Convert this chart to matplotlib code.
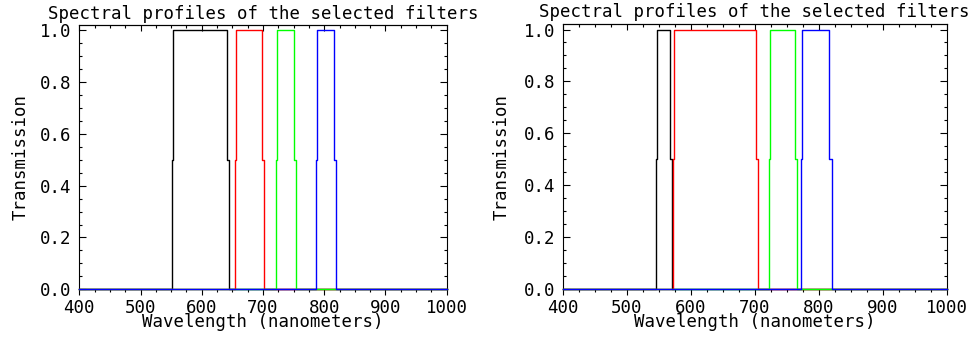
import matplotlib.pyplot as plt
from matplotlib.ticker import MultipleLocator

# filter edges (nm): [0->0.5, 0.5->1, 1->0.5, 0.5->0]
filter_colors = ["black", "red", "#00ff00", "blue"]
left_edges = [
    [551.0, 553.5, 641.5, 644.5],
    [654.0, 656.0, 698.5, 701.0],
    [721.0, 723.5, 750.5, 754.0],
    [786.5, 788.5, 816.5, 819.0],
]
right_edges = [
    [546.0, 548.0, 567.0, 570.5],
    [572.5, 574.5, 701.5, 704.5],
    [722.5, 724.0, 762.5, 765.5],
    [772.5, 774.0, 816.5, 820.0],
]
step_levels = [0, 0, 0.5, 0.5, 1, 1, 0.5, 0.5, 0, 0]
wl_min, wl_max = 400, 1000

title = "Spectral profiles of the selected filters"
xlab = "Wavelength (nanometers)"
ylab = "Transmission"

plt.rcParams["font.family"] = "DejaVu Sans Mono"
plt.rcParams["font.size"] = 12.5

fig = plt.figure(figsize=(9.74, 3.4), dpi=100)
ax1 = fig.add_axes([0.0814, 0.1491, 0.3772, 0.7774])
ax2 = fig.add_axes([0.5777, 0.1491, 0.3943, 0.7794])


def draw_panel(ax, edges, title_pad):
    for col, e in zip(filter_colors, edges):
        a, b, c, d = e
        wl = [wl_min, a, a, b, b, c, c, d, d, wl_max]
        ax.plot(wl, step_levels, color=col, lw=1.0, zorder=3, clip_on=False)

    ax.set_xlim(wl_min, wl_max)
    ax.set_ylim(0, 1.02)
    ax.xaxis.set_major_locator(MultipleLocator(100))
    ax.xaxis.set_minor_locator(MultipleLocator(25))
    ax.yaxis.set_major_locator(MultipleLocator(0.2))
    ax.yaxis.set_minor_locator(MultipleLocator(0.05))
    ax.yaxis.set_major_formatter(plt.FormatStrFormatter("%.1f"))

    ax.tick_params(axis="x", which="both", direction="out", top=False, pad=3.0)
    ax.tick_params(axis="x", which="major", length=4.3, width=0.8)
    ax.tick_params(axis="x", which="minor", length=2.4, width=0.8)
    ax.tick_params(axis="y", which="both", direction="in", right=True, pad=5.5)
    ax.tick_params(axis="y", which="major", length=5, width=0.8)
    ax.tick_params(axis="y", which="minor", length=2.5, width=0.8)

    # top axis: ticks pointing inward, no labels
    top = ax.secondary_xaxis("top")
    top.xaxis.set_major_locator(MultipleLocator(100))
    top.xaxis.set_minor_locator(MultipleLocator(25))
    top.tick_params(which="both", direction="in", labeltop=False, width=0.8)
    top.tick_params(which="major", length=4)
    top.tick_params(which="minor", length=2.2)
    top.spines["top"].set_linewidth(0.8)

    for s in ax.spines.values():
        s.set_linewidth(0.8)

    ax.set_title(title, pad=title_pad, fontsize=12.5)
    ax.set_xlabel(xlab)
    ax.set_ylabel(ylab)
    ax.xaxis.set_label_coords(0.5, -0.09)
    ax.yaxis.set_label_coords(-0.136, 0.5)


draw_panel(ax1, left_edges, 4.1)
draw_panel(ax2, right_edges, 5.5)

fig.savefig("out.png", dpi=100)
